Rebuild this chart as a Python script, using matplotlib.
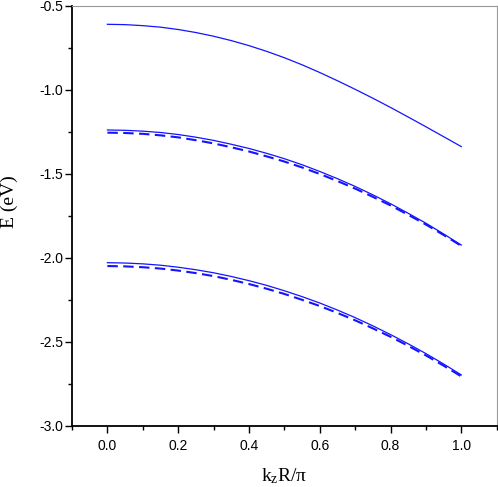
import matplotlib
matplotlib.use("Agg")
import matplotlib.pyplot as plt
from matplotlib.ticker import MultipleLocator, FormatStrFormatter

# values
k = [0.0, 0.05, 0.1, 0.15, 0.2, 0.25, 0.3, 0.35, 0.4, 0.45, 0.5,
     0.55, 0.6, 0.65, 0.7, 0.75, 0.8, 0.85, 0.9, 0.95, 1.0]
band1 = [-0.609, -0.611, -0.617, -0.626, -0.640, -0.658, -0.680, -0.706, -0.736, -0.770, -0.808,
         -0.850, -0.896, -0.945, -0.996, -1.049, -1.104, -1.161, -1.219, -1.278, -1.337]
band2 = [-1.238, -1.240, -1.245, -1.253, -1.265, -1.281, -1.300, -1.323, -1.348, -1.377, -1.409,
         -1.445, -1.485, -1.528, -1.574, -1.624, -1.677, -1.734, -1.793, -1.857, -1.923]
band2_dash = [-1.254, -1.256, -1.261, -1.270, -1.282, -1.299, -1.318, -1.341, -1.366, -1.395, -1.426,
              -1.461, -1.500, -1.542, -1.587, -1.636, -1.687, -1.743, -1.801, -1.863, -1.928]
band3 = [-2.028, -2.030, -2.035, -2.043, -2.055, -2.070, -2.088, -2.110, -2.135, -2.163, -2.195,
         -2.230, -2.268, -2.310, -2.355, -2.404, -2.456, -2.511, -2.569, -2.631, -2.696]
band3_dash = [-2.048, -2.050, -2.055, -2.063, -2.075, -2.090, -2.108, -2.130, -2.155, -2.183, -2.214,
              -2.249, -2.286, -2.327, -2.371, -2.419, -2.469, -2.523, -2.580, -2.641, -2.705]

blue = "#1414ff"

fig = plt.figure(figsize=(4.98, 4.87), dpi=100)
ax = fig.add_axes([0.1446, 0.1253, 0.8528, 0.8624])

for ys in (band1, band2, band3):
    ax.plot(k, ys, color=blue, lw=0.9)
for ys in (band2_dash, band3_dash):
    ax.plot(k, ys, color=blue, lw=1.5, dashes=(5, 2.6))

ax.set_xlim(-0.1, 1.1)
ax.set_ylim(-3.0, -0.5)
ax.set_xticks([0.0, 0.2, 0.4, 0.6, 0.8, 1.0])
ax.set_yticks([-3.0, -2.5, -2.0, -1.5, -1.0, -0.5])
ax.xaxis.set_minor_locator(MultipleLocator(0.1))
ax.yaxis.set_minor_locator(MultipleLocator(0.25))
ax.xaxis.set_major_formatter(FormatStrFormatter("%.1f"))
ax.yaxis.set_major_formatter(FormatStrFormatter("%.1f"))

ax.tick_params(which="major", direction="out", length=5, width=1.0, pad=1.5,
               labelsize=10, top=False, right=False)
ax.tick_params(which="minor", direction="out", length=3, width=1.0,
               top=False, right=False)
ax.tick_params(axis="x", which="major", pad=4.5)
for lab in ax.get_xticklabels() + ax.get_yticklabels():
    lab.set_family("Liberation Sans")

for side in ("left", "bottom"):
    ax.spines[side].set_linewidth(1.3)
    ax.spines[side].set_color("black")
for side in ("top", "right"):
    ax.spines[side].set_linewidth(0.8)
    ax.spines[side].set_color("#999999")

ax.set_ylabel("E (eV)", family="Liberation Serif", fontsize=14)
ax.yaxis.set_label_coords(-0.128, 0.533)
ax.set_xlabel(r"$\mathregular{k_zR/π}$", family="Liberation Serif", fontsize=14)
ax.xaxis.set_label_coords(0.5, -0.095)

fig.savefig("out.png", dpi=100)
